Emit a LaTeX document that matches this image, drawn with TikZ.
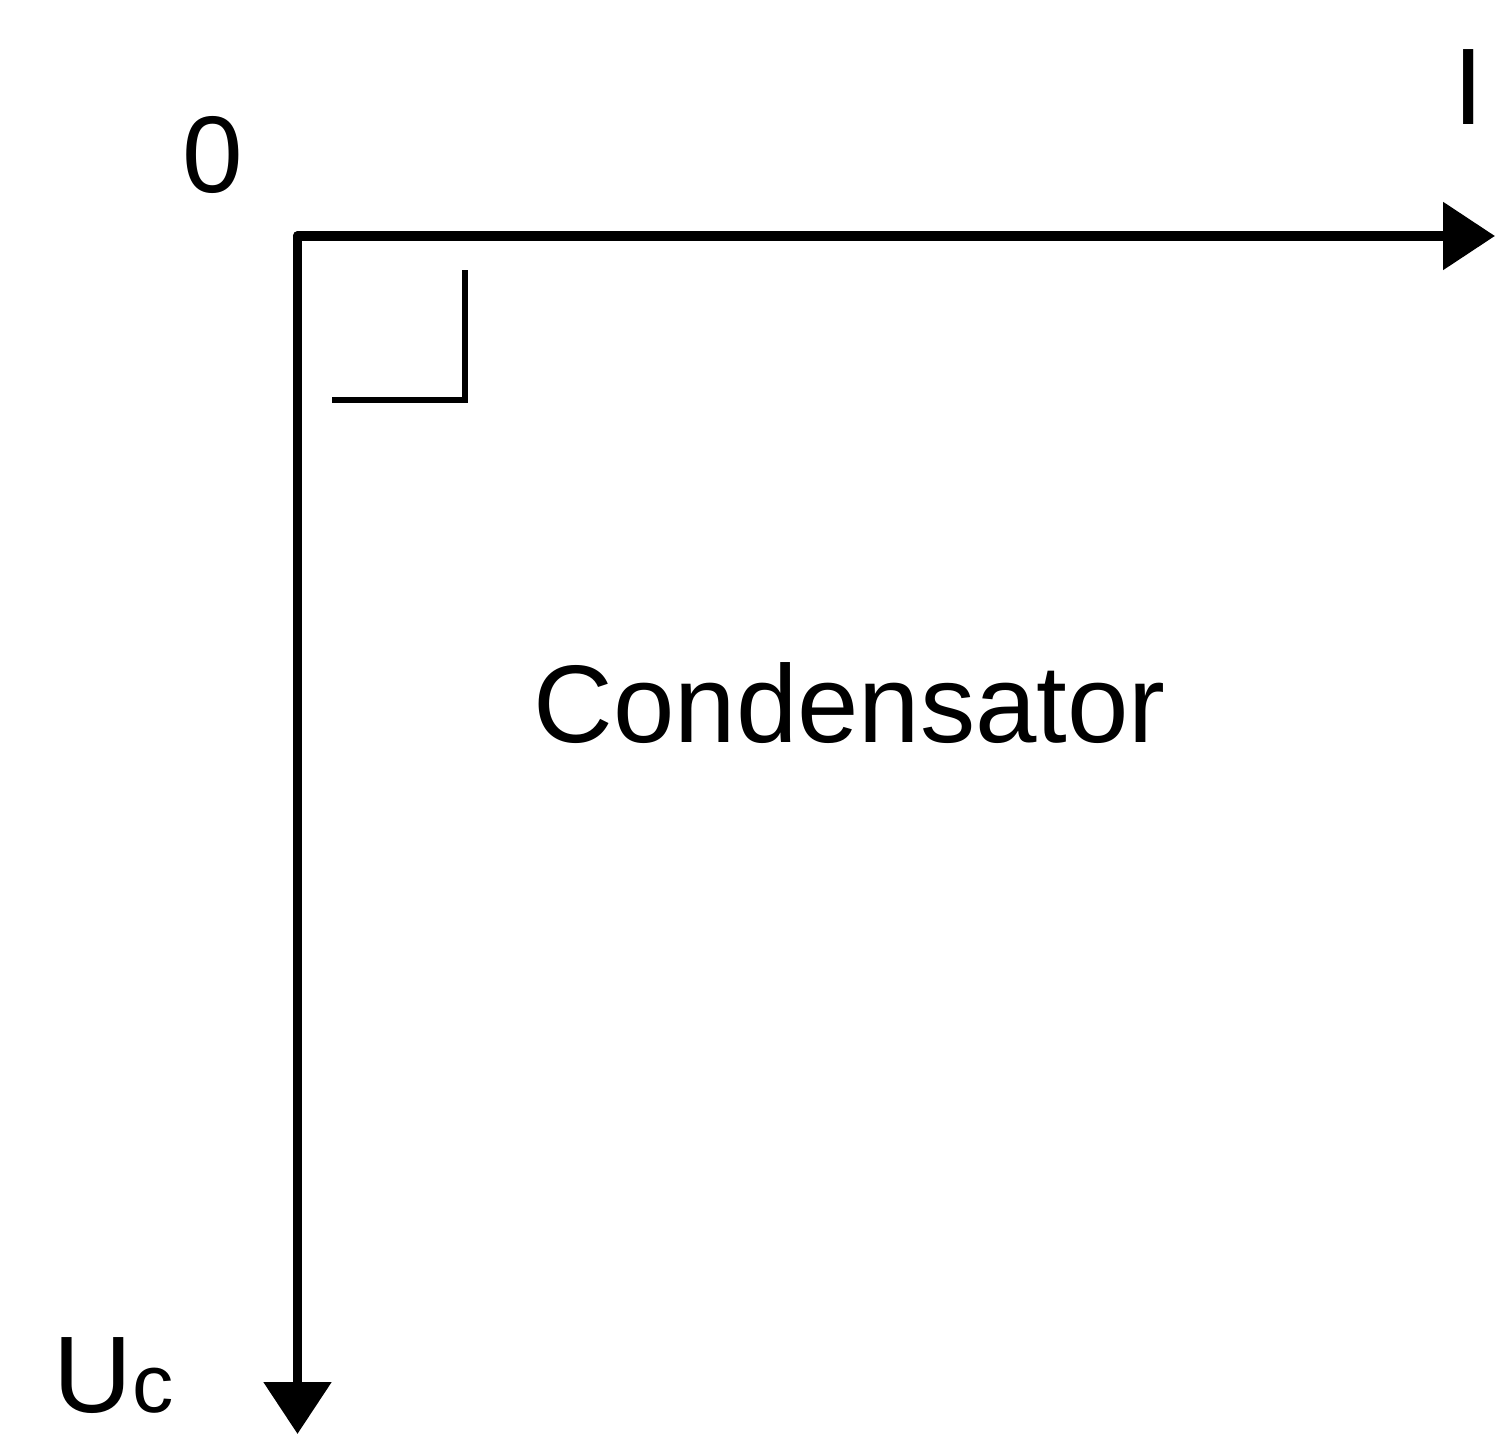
\documentclass[tikz,border=0pt]{standalone}
\usepackage{fontspec}
\setmainfont{Liberation Sans}
\usetikzlibrary{arrows.meta}
\begin{document}
\begin{tikzpicture}[
  axis/.style={line width=2.6pt, line cap=round, -{Triangle[length=0.52cm,width=0.66cm]}},
  rightmark/.style={line width=1.5pt},
  lbl/.style={inner sep=0pt, font=\fontsize{31pt}{36pt}\selectfont},
]
\useasboundingbox (0,0) rectangle (14.95,14.34);
\coordinate (O) at (2.975,11.98);
\coordinate (Iend) at (14.95,11.98);
\coordinate (Uend) at (2.975,0);
\draw[axis] (O) -- (Iend);
\draw[axis] (O) -- (Uend);
\coordinate (Ra) at (3.32,10.34);
\coordinate (Rb) at (4.65,10.34);
\coordinate (Rc) at (4.65,11.64);
\draw[rightmark] (Ra) -- (Rb) -- (Rc);
\node[lbl, anchor=base] (zero) at (2.13,12.41) {0};
\node[lbl, anchor=base] (ilabel) at (14.685,13.09) {I};
\node[lbl, anchor=base west] (uc) at (0.53,0.22) {U{\fontsize{23.5pt}{28pt}\selectfont c}};
\node[lbl, anchor=base west, font=\fontsize{31.4pt}{36pt}\selectfont] (cond) at (5.33,6.91) {Condensator};
\end{tikzpicture}
\end{document}
